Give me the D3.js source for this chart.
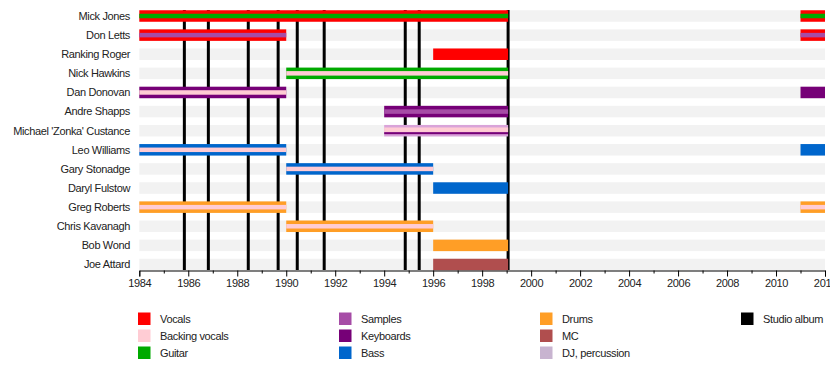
<!DOCTYPE html>
<html><head><meta charset="utf-8">
<script src="https://cdn.jsdelivr.net/npm/d3@7"></script>
<style>body{margin:0;background:#fff}svg{display:block}text{font-family:"Liberation Sans",Arial,sans-serif;fill:#222}</style>
</head><body><svg id="c" width="830" height="365"></svg>
<script>
const members = ["Mick Jones","Don Letts","Ranking Roger","Nick Hawkins","Dan Donovan","Andre Shapps","Michael 'Zonka' Custance","Leo Williams","Gary Stonadge","Daryl Fulstow","Greg Roberts","Chris Kavanagh","Bob Wond","Joe Attard"];
const roles = ["Vocals","Backing vocals","Guitar","Samples","Keyboards","Bass","Drums","MC","DJ, percussion","Studio album"];
const roleColors = ["#ff0000","#ffccd4","#00aa00","#a64ca6","#760077","#0066cc","#ff9e26","#b04e4e","#c8b4d0","#000000"];
// [member, start, end, main role, inner role]
const spans = [
  ["Mick Jones",1984,1999.06,"Vocals","Guitar"],
  ["Mick Jones",2011,2012,"Vocals","Guitar"],
  ["Don Letts",1984,1990,"Vocals","Samples"],
  ["Don Letts",2011,2012,"Vocals","Samples"],
  ["Ranking Roger",1996,1999.06,"Vocals",null],
  ["Nick Hawkins",1990,1999.06,"Guitar","Backing vocals"],
  ["Dan Donovan",1984,1990,"Keyboards","Backing vocals"],
  ["Dan Donovan",2011,2012,"Keyboards",null],
  ["Andre Shapps",1994,1999.06,"Keyboards","Samples"],
  ["Michael 'Zonka' Custance",1994,1999.06,"DJ, percussion","Backing vocals"],
  ["Leo Williams",1984,1990,"Bass","Backing vocals"],
  ["Leo Williams",2011,2012,"Bass",null],
  ["Gary Stonadge",1990,1996,"Bass","Backing vocals"],
  ["Daryl Fulstow",1996,1999.06,"Bass",null],
  ["Greg Roberts",1984,1990,"Drums","Backing vocals"],
  ["Greg Roberts",2011,2012,"Drums","Backing vocals"],
  ["Chris Kavanagh",1990,1996,"Drums","Backing vocals"],
  ["Bob Wond",1996,1999.06,"Drums",null],
  ["Joe Attard",1996,1999.06,"MC",null]
];
const albums = [1985.84,1986.82,1988.45,1989.67,1990.45,1991.55,1994.86,1995.43,1999.06];
const yearTicks = d3.range(1984,2013,2);

const svg = d3.select("#c");
const x = d3.scaleLinear().domain([1984,2012]).range([139.3,825]);
const y = d3.scalePoint().domain(members).range([16,264.5]);
const color = d3.scaleOrdinal().domain(roles).range(roleColors);
const BH = 11.5, IH = 4.5;

// background stripes
svg.append("g").selectAll("rect").data(members).join("rect")
  .attr("x",x(1984)).attr("width",x(2012)-x(1984))
  .attr("y",d=>y(d)-BH/2).attr("height",BH).attr("fill","#f2f2f2");

// album lines
svg.append("g").selectAll("line").data(albums).join("line")
  .attr("x1",d=>x(d)).attr("x2",d=>x(d)).attr("y1",10).attr("y2",270)
  .attr("stroke","#000").attr("stroke-width",3);

// bars
const bars = svg.append("g");
bars.selectAll("rect.main").data(spans).join("rect").attr("class","main")
  .attr("x",d=>x(d[1])).attr("width",d=>x(d[2])-x(d[1]))
  .attr("y",d=>y(d[0])-BH/2).attr("height",BH).attr("fill",d=>d[3]==="DJ, percussion"?"#d9a3d9":color(d[3]));
bars.selectAll("rect.inner").data(spans.filter(d=>d[4])).join("rect").attr("class","inner")
  .attr("x",d=>x(d[1])).attr("width",d=>x(d[2])-x(d[1]))
  .attr("y",d=>y(d[0])-IH/2-(d[3]==="DJ, percussion"?1:0)).attr("height",IH).attr("fill",d=>color(d[4]));
// thin keyboards line for Custance
bars.selectAll("rect.thin").data(spans.filter(d=>d[3]==="DJ, percussion")).join("rect")
  .attr("x",d=>x(d[1])).attr("width",d=>x(d[2])-x(d[1]))
  .attr("y",d=>y(d[0])+1.5).attr("height",2).attr("fill",color("Keyboards"));

// member labels
svg.append("g").selectAll("text").data(members).join("text")
  .attr("x",130).attr("y",d=>y(d)).attr("dy","0.35em").attr("text-anchor","end")
  .attr("font-size",11).attr("letter-spacing",-0.35).text(d=>d);

// axis
const ax = svg.append("g").attr("transform","translate(0,270.5)");
ax.call(d3.axisBottom(x).tickValues(yearTicks).tickFormat(d3.format("d")).tickSize(6).tickPadding(3));
ax.append("g").call(d3.axisBottom(x).tickValues(d3.range(1985,2012,2)).tickFormat("").tickSize(3)).select(".domain").remove();
ax.selectAll("text").attr("font-size",11).attr("fill","#222").attr("letter-spacing",-0.3).attr("font-family","Liberation Sans, Arial, sans-serif");
ax.selectAll(".domain,.tick line").attr("stroke","#000");

// legend
const legCols = [[0,1,2],[3,4,5],[6,7,8],[9]];
const legX = [138,339,540,741];
legCols.forEach((col,ci)=>{
  const g = svg.append("g");
  g.selectAll("rect").data(col).join("rect")
    .attr("x",legX[ci]).attr("y",(d,i)=>312.5+i*17).attr("width",12.5).attr("height",12.5)
    .attr("fill",d=>roleColors[d]);
  g.selectAll("text").data(col).join("text")
    .attr("x",legX[ci]+22).attr("y",(d,i)=>319+i*17).attr("dy","0.35em")
    .attr("font-size",11).attr("letter-spacing",-0.35).text(d=>roles[d]);
});
</script></body></html>
